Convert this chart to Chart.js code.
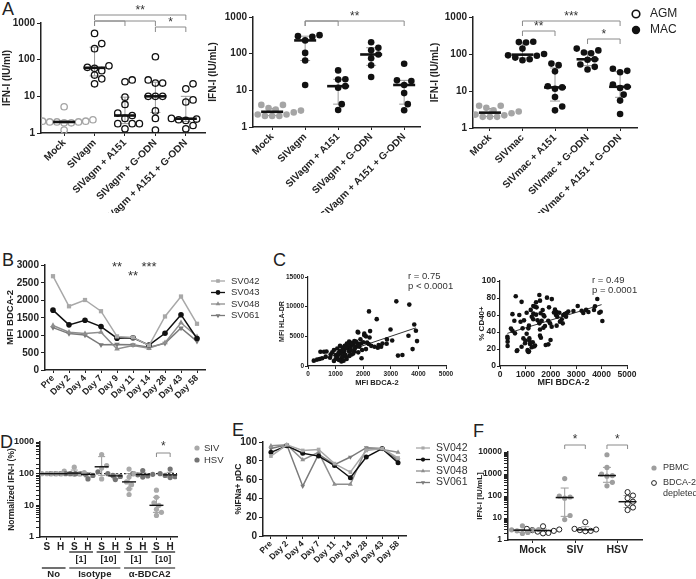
<!DOCTYPE html>
<html>
<head>
<meta charset="utf-8">
<script src="https://cdn.jsdelivr.net/npm/chart.js@4.4.1/dist/chart.umd.min.js"></script>
<style>
  body { margin: 0; background: #fff; width: 696px; height: 579px; overflow: hidden; position: relative;
         font-family: "Liberation Sans", Arial, sans-serif; }
  canvas { position: absolute; }
  .tag { position: absolute; font-size: 18px; line-height: 1; color: #222; }
  .ylab { position: absolute; font: bold 10px "Liberation Sans", Arial, sans-serif; line-height: 12px;
          color: #222; text-align: right; z-index: 5; }
</style>
</head>
<body>
<div class="tag" style="left:2px;top:0px">A</div>
<div class="tag" style="left:2px;top:251px">B</div>
<div class="tag" style="left:273px;top:251px">C</div>
<div class="tag" style="left:0px;top:433px">D</div>
<div class="tag" style="left:232px;top:421px">E</div>
<div class="tag" style="left:473px;top:422px">F</div>

<canvas id="a1"></canvas>
<canvas id="a2"></canvas>
<canvas id="a3"></canvas>
<canvas id="b"></canvas>
<canvas id="c1"></canvas>
<canvas id="c2"></canvas>
<canvas id="d"></canvas>
<canvas id="e"></canvas>
<canvas id="f"></canvas>

<script>
// ---------- Panel A : IFN-I (IU/mL) per condition ----------
const catsAgm = ['Mock', 'SIVagm', 'SIVagm + A151', 'SIVagm + G-ODN', 'SIVagm + A151 + G-ODN'];
const catsMac = ['Mock', 'SIVmac', 'SIVmac + A151', 'SIVmac + G-ODN', 'SIVmac + A151 + G-ODN'];

// AGM cells, SIVagm
const a1Mock = [5.2, 2.3, 2.1, 2.0, 2.0, 1.9, 2.0, 2.1, 1.2, 1.9];
const a1Siv = [520, 275, 200, 68, 62, 58, 50, 38, 30, 22];
const a1A151 = [28, 25, 9.5, 6, 3.5, 3, 2.5, 1.8, 1.8, 1.3, 1.8];
const a1Godn = [120, 28, 23, 23, 10, 10, 10, 4, 2.5, 1.2];
const a1Both = [22, 16, 8, 7, 2.5, 2.4, 2.3, 2.2, 1.6, 1.3];

// MAC cells, SIVagm
const a2Mock = [4, 4, 3.3, 3, 2.7, 2.5, 2.2, 2, 2, 2, 2.2, 2.8];
const a2Siv = [320, 300, 290, 230, 105, 65, 14];
const a2A151 = [35, 20, 19.6, 13, 11.8, 4.2, 2.9];
const a2Godn = [205, 145, 123, 95, 75, 48, 23];
const a2Both = [53, 18.7, 18, 14, 8.4, 4.2, 2.85];

// MAC cells, SIVmac
const a3Mock = [4, 4, 3.5, 3, 2.7, 2.5, 2.2, 2, 2, 2, 2.3, 2.8];
const a3Siv = [215, 210, 205, 140, 100, 92, 90, 80, 72, 68];
const a3A151 = [55, 50, 34, 13.5, 12.5, 11.5, 6.9, 3.8, 3];
const a3Godn = [140, 125, 110, 105, 72, 70, 52, 45, 38];
const a3Both = [40, 35, 32, 15, 13, 12, 8, 5.5, 2.4];

// ---------- Panel B : MFI BDCA-2 over time ----------
const daysB = ['Pre', 'Day 2', 'Day 4', 'Day 7', 'Day 9', 'Day 11', 'Day 14', 'Day 28', 'Day 43', 'Day 58'];
const bSV042 = [2680, 1820, 2000, 1680, 960, 930, 700, 1530, 2100, 1320];
const bSV043 = [1710, 1290, 1420, 1240, 910, 920, 710, 1050, 1580, 900];
const bSV048 = [1270, 1080, 1040, 1080, 600, 700, 620, 780, 1350, 950];
const bSV061 = [1210, 1040, 1000, 720, 730, 720, 650, 760, 1200, 820];

// ---------- Panel C : correlations with MFI BDCA-2 ----------
const cHlaPoints = [
  [3200,10900],[3670,10350],[2210,9200],[2490,7900],[2990,6150],[3850,7000],[3910,5950],[3640,5100],
  [3950,4200],[3790,2850],[3260,1750],[3420,1850],[2860,4480],[2850,3750],[2590,3400],[2530,3080],
  [2250,5880],[2230,4800],[1800,5750],[2040,5200],[1960,2700],[1940,1300],[1680,4200],
  [210,900],[330,1100],[420,1180],[510,1300],[450,2400],[580,2400],[670,2450],[640,1580],[820,1950],
  [880,2300],[1000,1850],[1060,1580],[1120,1950],[1160,2500],[1210,1300],[1250,1580],[1310,2150],
  [1370,1580],[1310,2700],[1430,2950],[1490,3550],[1550,3250],[1610,3800],[1490,2400],[1580,1950],
  [1680,2500],[1740,3250],[1800,3800],[1740,4100],[1490,4100],[1410,3800],[1330,3400],[1250,3100],
  [1160,3400],[1060,2950],[940,2700],[1820,2300],[1860,3250],[1920,3800],[2100,2850],[2140,3950],
  [1820,5650],[2040,5450],[2290,3400],[2410,3250],[2650,3250],[2560,3550],[1000,1180],[1120,1000],
  [1210,750],[940,850],[800,1400],[1400,1180],[1290,900],[1100,2200],[1200,2200],[1350,1900],
  [1450,3400],[1550,2700],[1650,3600],[1700,3000],[1580,3900],[1380,3100],[1240,2600],[1500,1700],
  [1640,2100],[2000,4000],[1900,4500],[2200,3700],[2100,5000],[3050,4300],[2700,3800]
];
const cHlaFit = [[270, 730], [3910, 6430]];
const cCd40Points = [
  [620,82],[490,61],[290,34.5],[300,32.5],[300,28.6],[300,23.5],[430,44],[490,41.5],[680,18.4],
  [850,75.5],[590,38.4],[810,52],[945,53.7],[985,26.7],[1050,62.7],[1140,47.5],[1115,44.3],
  [1155,32.5],[1155,29.8],[1180,25.9],[1090,18.8],[1140,17.5],[1290,27.8],[1250,22],[1340,23],
  [1380,24],[1310,70.6],[1380,69.8],[1440,69],[1310,61.6],[1420,60.4],[1480,53.7],[1550,83.5],
  [1575,76.9],[1550,50.2],[1575,43],[1575,35.7],[1610,33.3],[1680,65.9],[1710,60],[1640,53.3],
  [1745,58.4],[1710,45],[1770,47],[1800,24.7],[1850,80.4],[1900,53.3],[1930,69],[1990,30.6],
  [1970,50.2],[2040,78.7],[1905,25.5],[2165,66.3],[2230,63.5],[2205,60],[2335,62.7],[2430,55],
  [2360,52.2],[2255,58],[2125,63],[2490,60],[2690,64],[2625,62.4],[2600,58],[2890,64.7],
  [3060,70.6],[3280,62.4],[3215,65],[3390,66],[3480,63.5],[3700,65.9],[3740,70.2],[3830,78.8],
  [3910,62.7],[3965,63.9],[4030,53],[2470,50.2],[565,53.3],[760,60],[890,44.3],[920,32.5],
  [850,22.7],[660,17.7],[1090,17.7],[1120,16.5],[1210,66],[1310,55],[1420,75],[2230,47.5],
  [2035,46.3],[1000,30],[1250,58],[1600,62],[2550,61],[1050,38]
];
const cCd40Fit = [[290, 38.4], [4000, 72.2]];

// ---------- Panel D : normalized IFN-I (%) ----------
const dTicks = ['S', 'H', 'S', 'H', 'S', 'H', 'S', 'H', 'S', 'H'];
const dNoS = [100, 100, 100, 100, 100, 100];
const dNoH = [100, 100, 100, 100, 100, 100];
const dIso1S = [160, 120, 108, 100, 98, 95];
const dIso1H = [115, 100, 95, 88, 68];
const dIso10S = [400, 180, 150, 68];
const dIso10H = [100, 88, 82, 65];
const dAb1S = [140, 100, 78, 55, 45, 33, 22];
const dAb1H = [125, 100, 95, 92, 85, 78];
const dAb10S = [30, 18, 12, 10, 7.5, 6, 4.8];
const dAb10H = [140, 100, 95, 88, 80, 75];

// ---------- Panel E : %IFNa+ pDC over time ----------
const daysE = ['Pre', 'Day 2', 'Day 4', 'Day 7', 'Day 11', 'Day 14', 'Day 28', 'Day 43', 'Day 58'];
const eSV042 = [85, 97, 91, 92, 77, 68, 91, 93, 83];
const eSV043 = [89, 96, 88, 85, 75, 62, 84, 93, 78];
const eSV048 = [96, 97, 81, 89, 55, 55, 93, 92, 89];
const eSV061 = [93, 97, 53, 87, 76, 84, 94, 93, 81];

// ---------- Panel F : IFN-I [IU/mL], PBMC vs BDCA-2 depleted ----------
const fCats = ['Mock', 'SIV', 'HSV'];
const fMockPbmc = [4.4, 3, 2.8, 2.6, 2.2, 2, 2.9];
const fMockDepl = [4.2, 3.2, 3, 2.8, 2.6, 2.4, 2.1, 2];
const fSivPbmc = [620, 100, 90, 80, 13, 8.5];
const fSivDepl = [6.5, 3.2, 3, 2.8, 2.6, 2.5];
const fHsvPbmc = [7500, 2000, 1000, 850, 800, 420, 290];
const fHsvDepl = [150, 105, 80, 55, 45, 30, 23];

// ================= helpers =================
const FONT = '"Liberation Sans", Arial, Helvetica, sans-serif';
Chart.defaults.font.family = FONT;
Chart.defaults.color = '#222';
Chart.defaults.animation = false;
Chart.defaults.plugins.legend.display = false;
Chart.defaults.plugins.tooltip.enabled = false;
const INK = '#222';
const ERR = '#9a9a9a';
const plain = v => String(v);   // no thousands separators

function median(a) {
  const s = [...a].sort((p, q) => p - q), n = s.length;
  return n % 2 ? s[(n - 1) / 2] : (s[n / 2 - 1] + s[n / 2]) / 2;
}
function quantile(a, p) {
  const s = [...a].sort((u, v) => u - v);
  let pos = p * (s.length + 1) - 1;
  pos = Math.max(0, Math.min(s.length - 1, pos));
  const lo = Math.floor(pos), hi = Math.ceil(pos);
  return s[lo] + (s[hi] - s[lo]) * (pos - lo);
}

// canvas sized so the plot area lands on the given rectangle
function setup(id, g) {
  const c = document.getElementById(id);
  const cl = g.left - g.yw, ct = g.top - g.pt;
  const cw = g.right + g.pr - cl, ch = g.bottom + g.xh - ct;
  Object.assign(c.style, { left: cl + 'px', top: ct + 'px', width: cw + 'px', height: ch + 'px' });
  c.width = cw; c.height = ch;
  return c;
}

// beeswarm style horizontal offsets (px) for one group on a log axis
function swarm(values, pxDec, d) {
  const order = values.map((v, i) => i).sort((a, b) => values[a] - values[b]);
  const placed = [], off = [];
  order.forEach(i => {
    const y = Math.log10(values[i]) * pxDec;
    for (let k = 0; k < 80; k++) {
      const dx = (k % 2 ? 1 : -1) * Math.ceil(k / 2) * d * 0.5 || 0;
      if (placed.every(p => (p.x - dx) ** 2 + (p.y - y) ** 2 >= d * d * 0.85)) {
        placed.push({ x: dx, y }); off[i] = dx; break;
      }
    }
  });
  return off;
}

function line(ctx, x1, y1, x2, y2) {
  ctx.beginPath(); ctx.moveTo(x1, y1); ctx.lineTo(x2, y2); ctx.stroke();
}
function bracket(ctx, x1, x2, y, drop) {
  ctx.beginPath();
  ctx.moveTo(x1, y + drop); ctx.lineTo(x1, y); ctx.lineTo(x2, y); ctx.lineTo(x2, y + drop);
  ctx.stroke();
}
function text(ctx, s, x, y, size, align, weight, color) {
  ctx.font = (weight || 'normal') + ' ' + size + 'px ' + FONT;
  ctx.fillStyle = color || INK;
  ctx.textAlign = align || 'center';
  ctx.textBaseline = 'middle';
  ctx.fillText(s, x, y);
}
function titlePad(g, centerX, size) {
  return { top: Math.max(0, centerX - (g.left - g.yw) - size * 0.6), bottom: 0 };
}

function logY(g, size, titleText, titleSize, titleX, minorTicks) {
  const decades = [1, 10, 100, 1000, 10000];
  return {
    type: 'logarithmic', min: g.ymin, max: g.ymax,
    afterFit: s => { s.width = g.yw; },
    ticks: {
      autoSkip: false, padding: 2, color: INK,
      font: { size: size, weight: 'bold' },
      callback: v => decades.includes(v) ? String(v) : ''
    },
    grid: {
      display: true, drawOnChartArea: false, tickLength: 4,
      tickColor: c => decades.includes(c.tick.value) || minorTicks ? INK : 'rgba(0,0,0,0)'
    },
    border: { display: true, color: INK, width: 1.5 },
    title: {
      display: true, text: titleText, color: INK,
      font: { size: titleSize, weight: 'bold' }, padding: titlePad(g, titleX, titleSize)
    }
  };
}

// dot plot: scatter points spread per group, IQR whiskers and median bars
function dotPanel(id, g, labels, tickAt, groups, yAxis, xFont, rot, extra) {
  const canvas = setup(id, g);
  const pxUnit = (g.right - g.left) / (g.xmax - g.xmin);
  const pxDec = (g.bottom - g.top) / Math.log10(g.ymax / g.ymin);
  const datasets = groups.map(gr => {
    const off = swarm(gr.values, pxDec, gr.d);
    return {
      data: gr.values.map((v, i) => ({ x: gr.x + off[i] / pxUnit, y: v })),
      pointRadius: gr.r, pointBackgroundColor: gr.fill, pointBorderColor: gr.stroke,
      pointBorderWidth: gr.bw, showLine: false
    };
  });
  const stats = {
    id: 'stats',
    beforeDatasetsDraw(chart) {
      const { ctx, scales: { x, y } } = chart;
      ctx.save();
      if (extra.before) extra.before(chart);
      ctx.strokeStyle = ERR; ctx.lineWidth = 1;
      groups.forEach(gr => {
        const cx = x.getPixelForValue(gr.x);
        const y1 = y.getPixelForValue(quantile(gr.values, 0.25));
        const y3 = y.getPixelForValue(quantile(gr.values, 0.75));
        line(ctx, cx, y1, cx, y3);
        line(ctx, cx - gr.cap, y1, cx + gr.cap, y1);
        line(ctx, cx - gr.cap, y3, cx + gr.cap, y3);
      });
      ctx.restore();
    },
    afterDatasetsDraw(chart) {
      const { ctx, scales: { x, y } } = chart;
      ctx.save();
      ctx.strokeStyle = '#111';
      groups.forEach(gr => {
        const cx = x.getPixelForValue(gr.x);
        const ym = y.getPixelForValue(median(gr.values));
        ctx.lineWidth = gr.mw;
        line(ctx, cx - gr.half, ym, cx + gr.half, ym);
      });
      ctx.strokeStyle = '#8a8a8a'; ctx.lineWidth = 1;
      if (extra.after) extra.after(chart);
      ctx.restore();
    }
  };
  return new Chart(canvas, {
    type: 'scatter',
    data: { datasets },
    plugins: [stats],
    options: {
      responsive: false,
      layout: { padding: { left: 0, top: g.pt, right: g.pr, bottom: 0 } },
      scales: {
        x: {
          type: 'linear', min: g.xmin, max: g.xmax,
          afterBuildTicks: s => { s.ticks = tickAt.map(v => ({ value: v })); },
          afterFit: s => { s.height = g.xh; },
          ticks: {
            autoSkip: false, minRotation: rot, maxRotation: rot, padding: 1, color: INK,
            font: { size: xFont, weight: 'bold' },
            callback: (v, i) => labels[i]
          },
          grid: { display: true, drawOnChartArea: false, tickLength: 3, color: INK },
          border: { display: true, color: INK, width: 1.5 }
        },
        y: yAxis
      }
    }
  });
}

function aGroups(sets, open) {
  return sets.map((vals, i) => {
    const mock = i === 0;
    return {
      x: i, values: vals, d: 7.2, r: open ? 3.2 : 3.3,
      fill: open ? 'rgba(0,0,0,0)' : (mock ? '#a5a5a5' : '#111'),
      stroke: mock ? '#a5a5a5' : '#111', bw: open ? 1.3 : 0,
      cap: 5, half: 11, mw: 2.6
    };
  });
}
function aBrackets(specs) {
  return chart => {
    const { ctx, scales: { x }, chartArea: ca } = chart;
    specs.forEach(s => {
      const x1 = x.getPixelForValue(s.from), x2 = x.getPixelForValue(s.to);
      bracket(ctx, x1, x2, ca.top + s.dy, 5);
      if (s.stars) text(ctx, s.stars, (x1 + x2) / 2, ca.top + s.dy - 4, 12, 'center', 'normal', '#333');
    });
  };
}

// ================= Panel A =================
const gA1 = { left: 41, right: 205, top: 23, bottom: 133, yw: 41, pt: 23, pr: 8, xh: 80,
              xmin: -0.76, xmax: 4.63, ymin: 1, ymax: 1000 };
dotPanel('a1', gA1, catsAgm, [0, 1, 2, 3, 4], aGroups([a1Mock, a1Siv, a1A151, a1Godn, a1Both], true),
  logY(gA1, 10, 'IFN-I (IU/ml)', 10, 7, false), 10, 45,
  { after: aBrackets([
      { from: 1, to: 4, dy: -8, stars: '**' },
      { from: 1, to: 2, dy: -2 }, { from: 1, to: 3, dy: -2 },
      { from: 3, to: 4, dy: 4, stars: '*' }]) });

const gA2 = { left: 253, right: 420, top: 17, bottom: 127, yw: 46, pt: 17, pr: 8, xh: 86,
              xmin: -0.58, xmax: 4.48, ymin: 1, ymax: 1000 };
dotPanel('a2', gA2, catsAgm, [0, 1, 2, 3, 4], aGroups([a2Mock, a2Siv, a2A151, a2Godn, a2Both], false),
  logY(gA2, 10, 'IFN-I (IU/mL)', 10, 213, false), 10, 45,
  { after: aBrackets([
      { from: 1, to: 4, dy: 4, stars: '**' }, { from: 1, to: 2, dy: 4 }]) });

const gA3 = { left: 473, right: 637, top: 17, bottom: 128, yw: 45, pt: 17, pr: 59, xh: 85,
              xmin: -0.52, xmax: 4.52, ymin: 1, ymax: 1000 };
dotPanel('a3', gA3, catsMac, [0, 1, 2, 3, 4], aGroups([a3Mock, a3Siv, a3A151, a3Godn, a3Both], false),
  logY(gA3, 10, 'IFN-I (IU/mL)', 10, 435, false), 10, 45,
  { after: chart => {
      aBrackets([
        { from: 1, to: 4, dy: 4, stars: '***' },
        { from: 1, to: 2, dy: 14, stars: '**' },
        { from: 3, to: 4, dy: 22, stars: '*' }])(chart);
      const { ctx } = chart;
      const ox = chart.canvas.offsetLeft, oy = chart.canvas.offsetTop;
      ctx.lineWidth = 1.6; ctx.strokeStyle = '#111';
      ctx.beginPath(); ctx.arc(636 - ox, 14 - oy, 3.8, 0, Math.PI * 2); ctx.stroke();
      ctx.fillStyle = '#111';
      ctx.beginPath(); ctx.arc(636 - ox, 30 - oy, 4.2, 0, Math.PI * 2); ctx.fill();
      text(ctx, 'AGM', 650 - ox, 14 - oy, 12, 'left', 'normal', '#222');
      text(ctx, 'MAC', 650 - ox, 30 - oy, 12, 'left', 'normal', '#222');
    } });

// ================= line panels (B, E) =================
// y tick labels are written as page text on top of the canvases
function linePanel(id, g, labels, series, yOpt, tickFont, legend, notes) {
  const canvas = setup(id, g);
  const deco = {
    id: 'deco',
    afterDraw(chart) {
      const { ctx, scales: { x, y } } = chart;
      const ox = chart.canvas.offsetLeft, oy = chart.canvas.offsetTop;
      ctx.save();
      series.forEach((s, i) => {
        const ly = legend.y + i * legend.gap - oy, lx = legend.x - ox;
        ctx.strokeStyle = s.color; ctx.fillStyle = s.color; ctx.lineWidth = 1.3;
        line(ctx, lx, ly, lx + 14, ly);
        Chart.helpers.drawPoint(ctx, { pointStyle: s.style, radius: s.r * 0.85, rotation: s.rot || 0, borderWidth: 0 }, lx + 7, ly);
        text(ctx, s.label, lx + 20, ly, legend.size, 'left', 'normal', '#333');
      });
      (notes || []).forEach(n => text(ctx, n.t, x.getPixelForValue(n.i), y.getPixelForValue(n.v), 13, 'center', 'normal', '#333'));
      ctx.restore();
    }
  };
  const chart = new Chart(canvas, {
    type: 'line',
    data: {
      labels,
      datasets: series.map(s => ({
        label: s.label, data: s.data, borderColor: s.color, backgroundColor: s.color,
        borderWidth: 1.5, pointStyle: s.style, pointRadius: s.r, pointRotation: s.rot || 0,
        pointBorderWidth: 0, tension: 0
      }))
    },
    plugins: [deco],
    options: {
      responsive: false,
      layout: { padding: { left: 0, top: g.pt, right: g.pr, bottom: 0 } },
      scales: {
        x: {
          offset: true,
          afterFit: s => { s.height = g.xh; },
          ticks: { autoSkip: false, minRotation: 45, maxRotation: 45, padding: 0, color: INK,
                   font: { size: tickFont, weight: 'bold' } },
          grid: { display: true, drawOnChartArea: false, tickLength: 3, color: INK, offset: false },
          border: { display: true, color: INK, width: 1.5 }
        },
        y: Object.assign({
          afterFit: s => { s.width = g.yw; },
          grid: { display: true, drawOnChartArea: false, tickLength: 4, color: INK },
          border: { display: true, color: INK, width: 1.5 }
        }, yOpt)
      }
    }
  });
  const y = chart.scales.y, cl = g.left - g.yw, ct = g.top - g.pt;
  y.ticks.forEach(t => {
    const el = document.createElement('div');
    el.className = 'ylab';
    el.textContent = String(t.value);
    el.style.right = (696 - (cl + y.right - 6)) + 'px';
    el.style.top = (ct + y.getPixelForValue(t.value) - 6) + 'px';
    document.body.appendChild(el);
  });
  return chart;
}

const gB = { left: 45, right: 205, top: 265, bottom: 370, yw: 45, pt: 50, pr: 55, xh: 40 };
linePanel('b', gB, daysB, [
  { label: 'SV042', data: bSV042, color: '#a8a8a8', style: 'rect', r: 3 },
  { label: 'SV043', data: bSV043, color: '#111111', style: 'circle', r: 2.8 },
  { label: 'SV048', data: bSV048, color: '#8e8e8e', style: 'triangle', r: 3.2 },
  { label: 'SV061', data: bSV061, color: '#7a7a7a', style: 'triangle', r: 3.2, rot: 180 }
], {
  min: 0, max: 3000,
  ticks: { stepSize: 500, padding: 2, color: 'rgba(0,0,0,0)', font: { size: 10, weight: 'bold' }, callback: plain },
  title: { display: true, text: 'MFI BDCA-2', color: INK, font: { size: 9.5, weight: 'bold' }, padding: { top: 5, bottom: 0 } }
}, 9, { x: 211, y: 281, gap: 11.5, size: 9.5 },
[{ t: '**', i: 4, v: 2930 }, { t: '**', i: 5, v: 2660 }, { t: '***', i: 6, v: 2930 }]);

const gE = { left: 263, right: 406, top: 442, bottom: 536, yw: 31, pt: 17, pr: 64, xh: 43 };
linePanel('e', gE, daysE, [
  { label: 'SV042', data: eSV042, color: '#a8a8a8', style: 'rect', r: 2.6 },
  { label: 'SV043', data: eSV043, color: '#111111', style: 'circle', r: 2.5 },
  { label: 'SV048', data: eSV048, color: '#8e8e8e', style: 'triangle', r: 2.8 },
  { label: 'SV061', data: eSV061, color: '#7a7a7a', style: 'triangle', r: 2.8, rot: 180 }
], {
  type: 'linear', min: 0, max: 100,
  ticks: { stepSize: 20, padding: 2, color: 'rgba(0,0,0,0)', font: { size: 10, weight: 'bold' }, callback: plain },
  title: { display: true, text: '%IFNa+ pDC', color: INK, font: { size: 8.5, weight: 'bold' }, padding: titlePad(gE, 239, 8.5) }
}, 8.5, { x: 416, y: 448, gap: 11.5, size: 10.5 });

// ================= Panel C =================
function scatterPanel(id, g, pts, fit, yOpt, tickFont, xTitleFont, xTitlePad, yTitle, yTitleFont, yTitleX, rText, pText, tx, ty) {
  const canvas = setup(id, g);
  const deco = {
    id: 'deco',
    afterDraw(chart) {
      const { ctx } = chart;
      const ox = chart.canvas.offsetLeft, oy = chart.canvas.offsetTop;
      text(ctx, rText, tx - ox, ty - oy, 9.5, 'left', 'normal', '#333');
      text(ctx, pText, tx - ox, ty + 10.5 - oy, 9.5, 'left', 'normal', '#333');
    }
  };
  return new Chart(canvas, {
    type: 'scatter',
    data: {
      datasets: [
        { data: pts.map(p => ({ x: p[0], y: p[1] })), pointRadius: 2.3, pointBackgroundColor: '#111', pointBorderWidth: 0 },
        { data: fit.map(p => ({ x: p[0], y: p[1] })), showLine: true, borderColor: '#333', borderWidth: 1, pointRadius: 0 }
      ]
    },
    plugins: [deco],
    options: {
      responsive: false,
      layout: { padding: { left: 0, top: g.pt, right: g.pr, bottom: 0 } },
      scales: {
        x: {
          type: 'linear', min: 0, max: 5000,
          afterFit: s => { s.height = g.xh; },
          ticks: { stepSize: 1000, padding: 1, maxRotation: 0, color: INK, font: { size: tickFont, weight: 'bold' }, callback: plain },
          grid: { display: true, drawOnChartArea: false, tickLength: 3, color: INK },
          border: { display: true, color: INK, width: 1.2 },
          title: { display: true, text: 'MFI BDCA-2', color: INK, font: { size: xTitleFont, weight: 'bold' }, padding: { top: 0, bottom: xTitlePad } }
        },
        y: Object.assign({
          type: 'linear',
          afterFit: s => { s.width = g.yw; },
          grid: { display: true, drawOnChartArea: false, tickLength: 3, color: INK },
          border: { display: true, color: INK, width: 1.2 },
          title: { display: true, text: yTitle, color: INK, font: { size: yTitleFont, weight: 'bold' }, padding: titlePad(g, yTitleX, yTitleFont) }
        }, yOpt)
      }
    }
  });
}

const gC1 = { left: 308, right: 446, top: 277, bottom: 366, yw: 32, pt: 12, pr: 26, xh: 26 };
scatterPanel('c1', gC1, cHlaPoints, cHlaFit,
  { min: 0, max: 15000, ticks: { stepSize: 5000, padding: 1, color: INK, font: { size: 6.5, weight: 'bold' }, callback: plain } },
  6.5, 7.5, 4.5, 'MFI HLA-DR', 7, 282, 'r = 0.75', 'p < 0.0001', 408, 276);

const gC2 = { left: 500, right: 627, top: 281, bottom: 366, yw: 26, pt: 16, pr: 35, xh: 26 };
scatterPanel('c2', gC2, cCd40Points, cCd40Fit,
  { min: 0, max: 100, ticks: { stepSize: 20, padding: 1, color: INK, font: { size: 8.5, weight: 'bold' }, callback: plain } },
  8.5, 9, 3.6, '% CD40+', 8, 482, 'r = 0.49', 'p = 0.0001', 592, 280);

// ================= Panel D =================
const gD = { left: 40, right: 177, top: 442, bottom: 537, yw: 40, pt: 17, pr: 57, xh: 42,
             xmin: -0.5, xmax: 9.5, ymin: 1, ymax: 1000 };
const dSets = [dNoS, dNoH, dIso1S, dIso1H, dIso10S, dIso10H, dAb1S, dAb1H, dAb10S, dAb10H];
dotPanel('d', gD, dTicks, [0, 1, 2, 3, 4, 5, 6, 7, 8, 9],
  dSets.map((vals, i) => ({
    x: i, values: vals, d: 5, r: 2.6, fill: i % 2 ? '#747474' : '#a9a9a9', stroke: 'rgba(0,0,0,0)', bw: 0,
    cap: 3.5, half: 7, mw: 1.4
  })),
  logY(gD, 9, 'Normalized IFN-I (%)', 8.5, 12, true), 10, 0,
  {
    before: chart => {
      const { ctx, scales: { y }, chartArea: ca } = chart;
      ctx.save(); ctx.strokeStyle = '#111'; ctx.lineWidth = 1.1; ctx.setLineDash([2, 2]);
      line(ctx, ca.left, y.getPixelForValue(100), ca.right, y.getPixelForValue(100));
      ctx.restore();
    },
    after: chart => {
      const { ctx, scales: { x }, chartArea: ca } = chart;
      const ox = chart.canvas.offsetLeft, oy = chart.canvas.offsetTop;
      const px = i => x.getPixelForValue(i);
      bracket(ctx, px(8), px(9), ca.top + 11, 4);
      text(ctx, '*', (px(8) + px(9)) / 2, ca.top + 5, 12, 'center', 'normal', '#333');
      ctx.strokeStyle = '#111'; ctx.lineWidth = 1.2;
      [[2, '[1]'], [4, '[10]'], [6, '[1]'], [8, '[10]']].forEach(([i, t]) => {
        line(ctx, px(i) - 5, ca.bottom + 15, px(i + 1) + 5, ca.bottom + 15);
        text(ctx, t, (px(i) + px(i + 1)) / 2, ca.bottom + 23, 9, 'center', 'bold', INK);
      });
      [[0, 1, 'No'], [2, 5, 'Isotype'], [6, 9, '\u03B1-BDCA2']].forEach(([a, b, t]) => {
        line(ctx, px(a) - 5, ca.bottom + 31, px(b) + 5, ca.bottom + 31);
        text(ctx, t, (px(a) + px(b)) / 2, ca.bottom + 37, 9.5, 'center', 'bold', INK);
      });
      ctx.fillStyle = '#a9a9a9';
      ctx.beginPath(); ctx.arc(197 - ox, 448 - oy, 2.6, 0, Math.PI * 2); ctx.fill();
      ctx.fillStyle = '#747474';
      ctx.beginPath(); ctx.arc(197 - ox, 460 - oy, 2.6, 0, Math.PI * 2); ctx.fill();
      text(ctx, 'SIV', 204 - ox, 448 - oy, 9.5, 'left', 'normal', '#333');
      text(ctx, 'HSV', 204 - ox, 460 - oy, 9.5, 'left', 'normal', '#333');
    }
  });

// ================= Panel F =================
const gF = { left: 508, right: 642, top: 452, bottom: 540, yw: 36, pt: 27, pr: 54, xh: 39,
             xmin: 0, xmax: 6.5, ymin: 1, ymax: 10000 };
const fSets = [fMockPbmc, fMockDepl, fSivPbmc, fSivDepl, fHsvPbmc, fHsvDepl];
dotPanel('f', gF, fCats, [1.2, 3.25, 5.3],
  fSets.map((vals, i) => {
    const depl = i % 2 === 1;
    return {
      x: 0.7 + Math.floor(i / 2) * 2.05 + (i % 2), values: vals, d: 5.4, r: 2.6,
      fill: depl ? '#fff' : '#9e9e9e', stroke: depl ? '#222' : 'rgba(0,0,0,0)', bw: depl ? 1 : 0,
      cap: 4, half: 9, mw: 1.5
    };
  }),
  logY(gF, 8.5, 'IFN-I [IU/mL]', 8, 480, true), 10.5, 0,
  {
    after: chart => {
      const { ctx, scales: { x }, chartArea: ca } = chart;
      const ox = chart.canvas.offsetLeft, oy = chart.canvas.offsetTop;
      [[2.75, 3.75], [4.8, 5.8]].forEach(([a, b]) => {
        bracket(ctx, x.getPixelForValue(a), x.getPixelForValue(b), ca.top - 7, 4);
        text(ctx, '*', (x.getPixelForValue(a) + x.getPixelForValue(b)) / 2, ca.top - 12, 12, 'center', 'normal', '#333');
      });
      ctx.fillStyle = '#9e9e9e';
      ctx.beginPath(); ctx.arc(654 - ox, 468 - oy, 2.6, 0, Math.PI * 2); ctx.fill();
      ctx.strokeStyle = '#222'; ctx.lineWidth = 1;
      ctx.beginPath(); ctx.arc(654 - ox, 483 - oy, 2.4, 0, Math.PI * 2); ctx.stroke();
      text(ctx, 'PBMC', 663 - ox, 468 - oy, 9, 'left', 'normal', '#333');
      text(ctx, 'BDCA-2', 663 - ox, 483 - oy, 9, 'left', 'normal', '#333');
      text(ctx, 'depleted', 663 - ox, 494 - oy, 9, 'left', 'normal', '#333');
    }
  });
</script>
</body>
</html>
